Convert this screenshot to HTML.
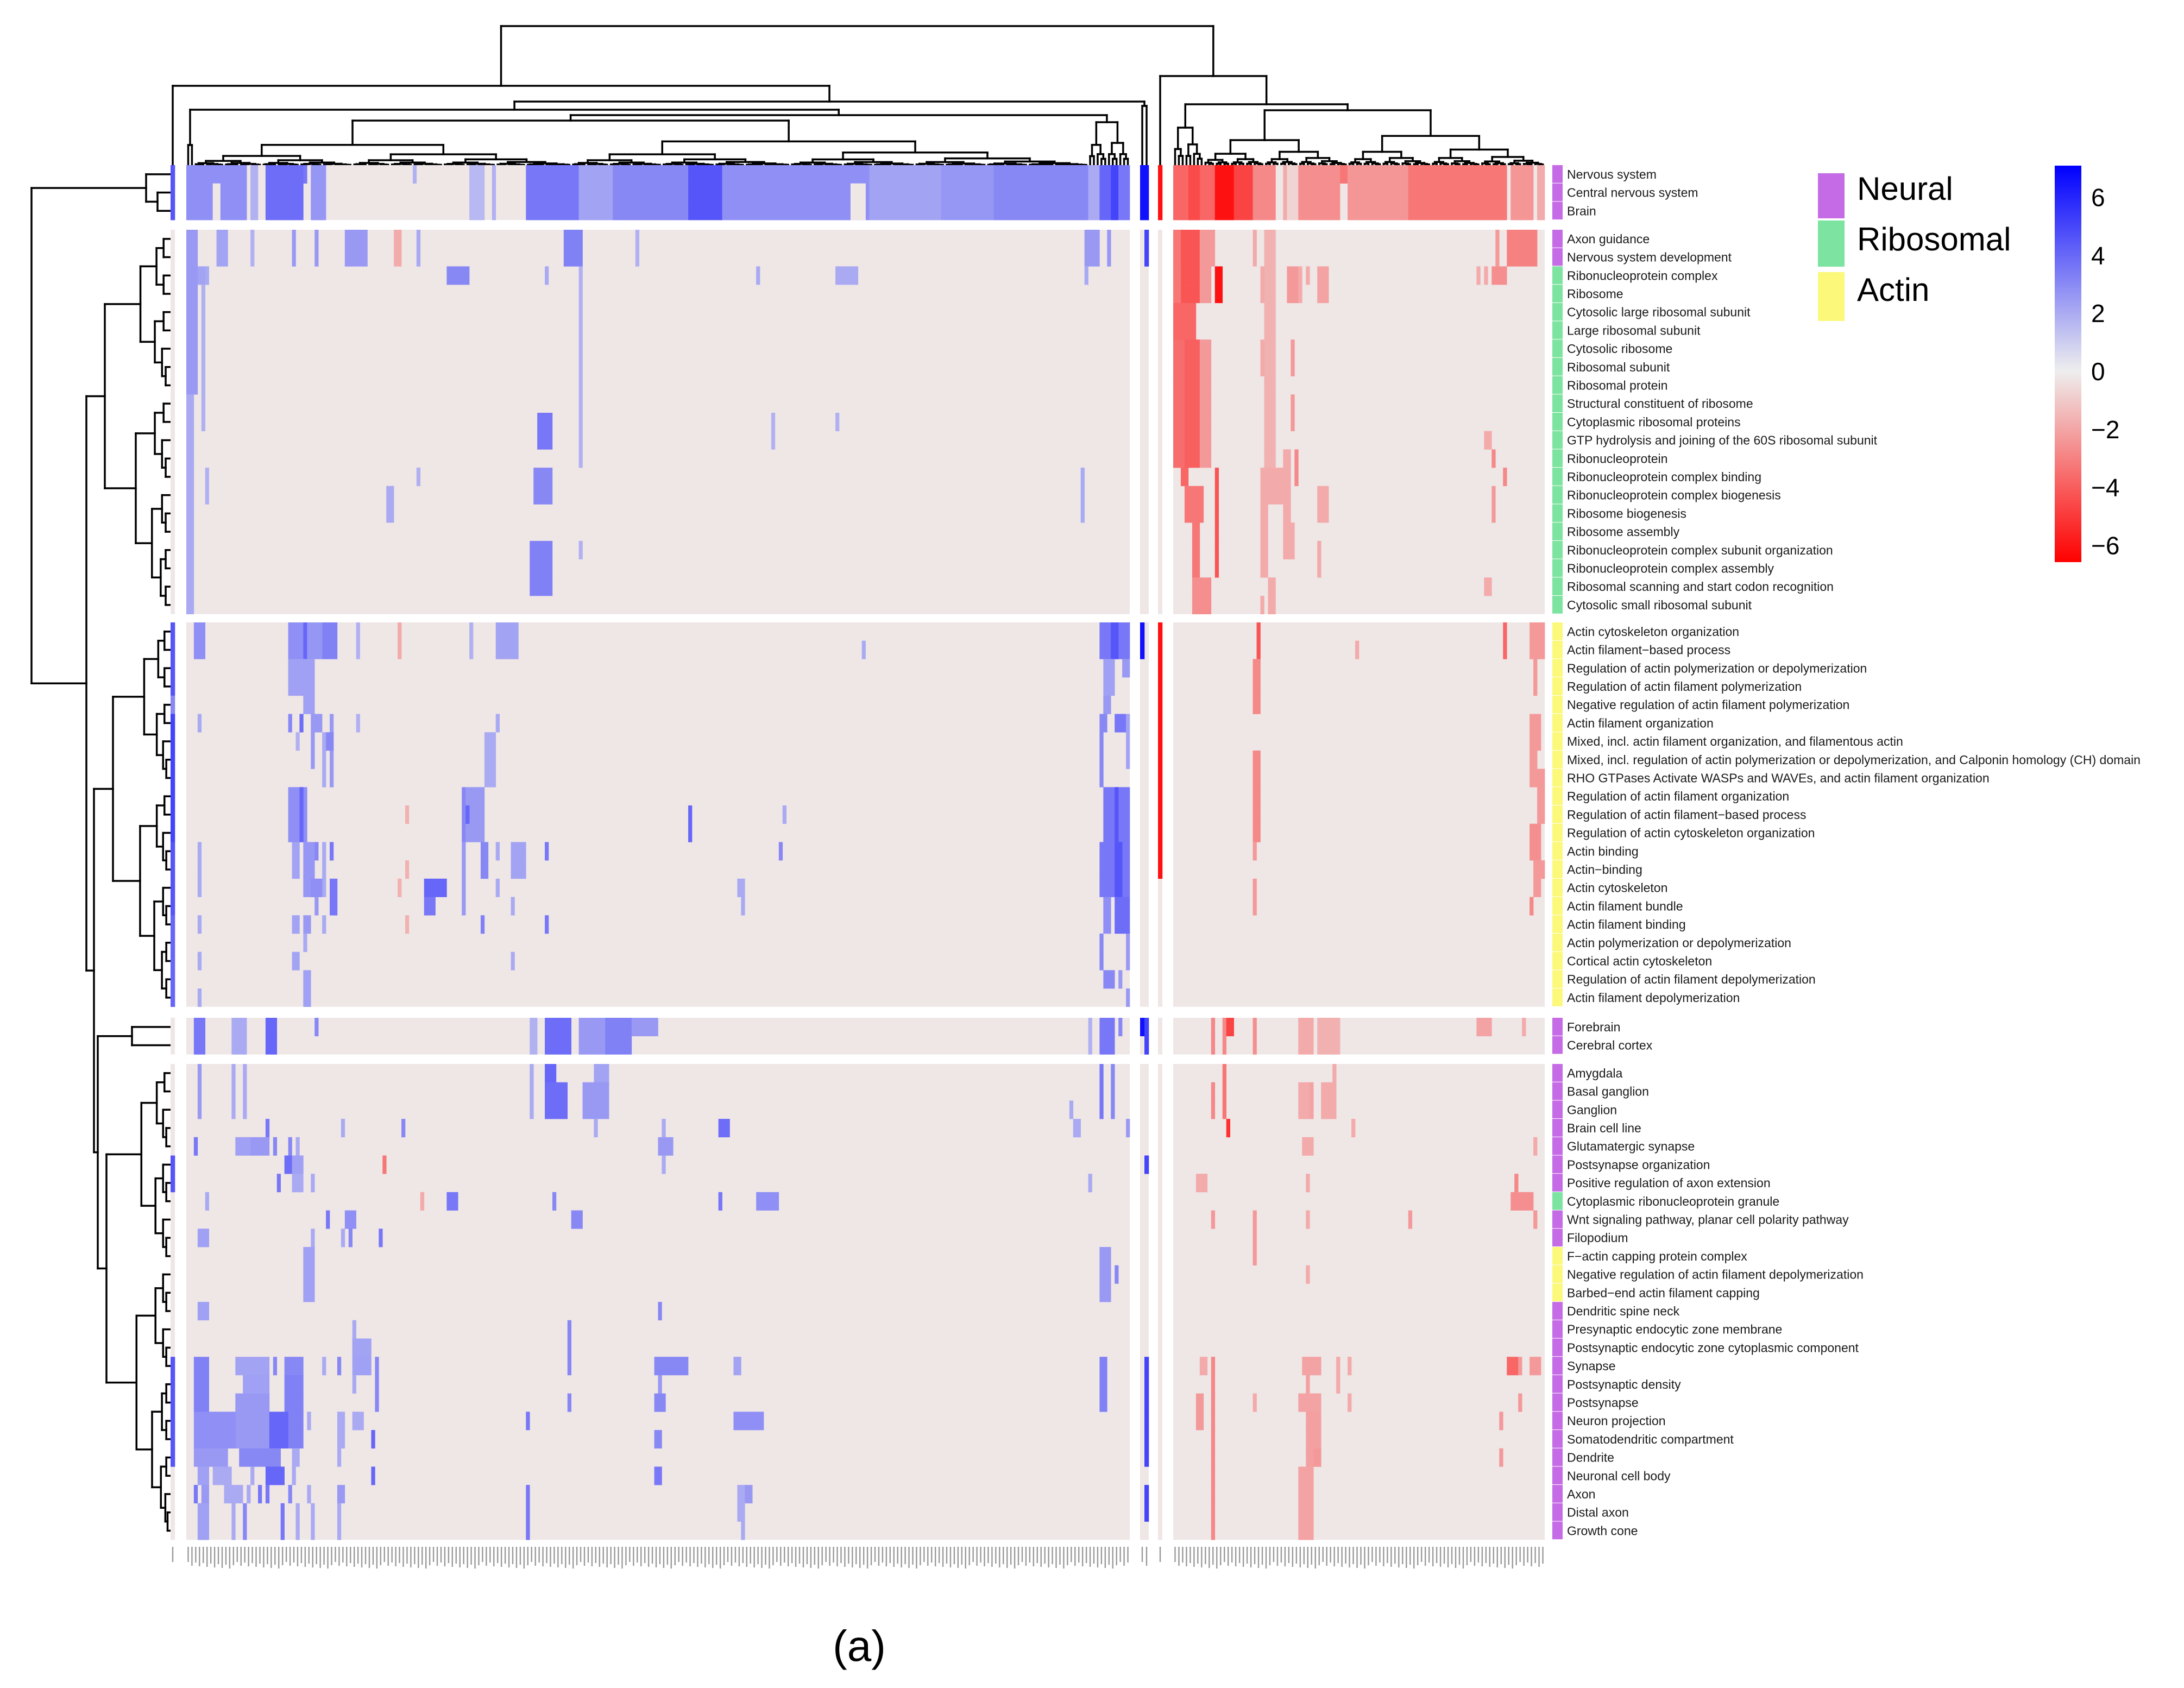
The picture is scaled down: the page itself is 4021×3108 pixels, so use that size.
<!DOCTYPE html>
<html><head><meta charset="utf-8"><style>
html,body{margin:0;padding:0;background:#fff;}
svg{display:block;font-family:"Liberation Sans",Arial,sans-serif;}
</style></head><body>
<svg id="chart" width="4021" height="3108" viewBox="0 0 4021 3108" xmlns="http://www.w3.org/2000/svg">
<rect width="4021" height="3108" fill="#fff"/>
<g id="dendro-cols"></g>
<g id="dendro-rows"></g>
<g id="cells"></g>
<g id="annot"></g>
<g id="labels"></g>
<g id="ticks"></g>
<g>
  <rect x="3347" y="319" width="49" height="83" fill="#c56be6"/>
  <rect x="3347" y="406" width="49" height="85" fill="#7de3a0"/>
  <rect x="3347" y="501" width="49" height="90" fill="#fbf87a"/>
  <text x="3419" y="368" font-size="60">Neural</text>
  <text x="3419" y="461" font-size="60">Ribosomal</text>
  <text x="3419" y="554" font-size="60">Actin</text>
</g>
<defs><linearGradient id="cbg" x1="0" y1="0" x2="0" y2="1">
<stop offset="0" stop-color="#0000ff"/><stop offset="0.518" stop-color="#eeeeee"/><stop offset="1" stop-color="#ff0000"/>
</linearGradient></defs>
<g>
  <rect x="3783" y="305" width="49" height="730" fill="url(#cbg)"/>
  <g id="cbticks" font-size="46"></g>
</g>
<text x="1582" y="3058" font-size="80" text-anchor="middle">(a)</text>
</svg>
<script>
// ---------- data ----------
const rowLabels = ["Nervous system","Central nervous system","Brain","Axon guidance","Nervous system development","Ribonucleoprotein complex","Ribosome","Cytosolic large ribosomal subunit","Large ribosomal subunit","Cytosolic ribosome","Ribosomal subunit","Ribosomal protein","Structural constituent of ribosome","Cytoplasmic ribosomal proteins","GTP hydrolysis and joining of the 60S ribosomal subunit","Ribonucleoprotein","Ribonucleoprotein complex binding","Ribonucleoprotein complex biogenesis","Ribosome biogenesis","Ribosome assembly","Ribonucleoprotein complex subunit organization","Ribonucleoprotein complex assembly","Ribosomal scanning and start codon recognition","Cytosolic small ribosomal subunit","Actin cytoskeleton organization","Actin filament\u2212based process","Regulation of actin polymerization or depolymerization","Regulation of actin filament polymerization","Negative regulation of actin filament polymerization","Actin filament organization","Mixed, incl. actin filament organization, and filamentous actin","Mixed, incl. regulation of actin polymerization or depolymerization, and Calponin homology (CH) domain","RHO GTPases Activate WASPs and WAVEs, and actin filament organization","Regulation of actin filament organization","Regulation of actin filament\u2212based process","Regulation of actin cytoskeleton organization","Actin binding","Actin\u2212binding","Actin cytoskeleton","Actin filament bundle","Actin filament binding","Actin polymerization or depolymerization","Cortical actin cytoskeleton","Regulation of actin filament depolymerization","Actin filament depolymerization","Forebrain","Cerebral cortex","Amygdala","Basal ganglion","Ganglion","Brain cell line","Glutamatergic synapse","Postsynapse organization","Positive regulation of axon extension","Cytoplasmic ribonucleoprotein granule","Wnt signaling pathway, planar cell polarity pathway","Filopodium","F\u2212actin capping protein complex","Negative regulation of actin filament depolymerization","Barbed\u2212end actin filament capping","Dendritic spine neck","Presynaptic endocytic zone membrane","Postsynaptic endocytic zone cytoplasmic component","Synapse","Postsynaptic density","Postsynapse","Neuron projection","Somatodendritic compartment","Dendrite","Neuronal cell body","Axon","Distal axon","Growth cone"];
// group runs: N=Neural, R=Ribosomal, A=Actin
const groupRuns = [["N",5],["R",19],["A",21],["N",9],["R",1],["N",2],["A",3],["N",13]];
const cbTicks = [6,4,2,0,-2,-4,-6];
const baseValue = -0.25;
// patches: [rowStart,rowEnd,colStart,colEnd,value]
const leftNarrow = [[0,2,0,0,4.5],[24,27,0,0,4.5],[28,28,0,0,3],[29,35,0,0,5],[36,39,0,0,4.5],[40,44,0,0,4],[52,53,0,0,4.5],[63,68,0,0,4.5]];
const blueNarrow = [[0,2,0,1,6.5],[3,4,1,1,5],[24,25,0,0,6.5],[45,45,0,0,6.5],[45,46,1,1,5],[52,52,1,1,5],[63,68,1,1,5],[70,71,1,1,5]];
const redNarrow = [[0,2,0,0,-6.5],[24,37,0,0,-6.5]];
const mainPatches = [
[0,2,0,15,2.8],[1,2,7,8,-0.25],[0,2,17,18,1.8],[0,2,21,30,3.8],[0,0,31,31,3.5],[0,2,33,36,2.6],[0,0,60,60,1.8],[0,2,75,78,1.6],[0,2,81,81,1.8],[0,2,90,103,3.5],[0,2,104,112,2.2],[0,2,113,132,3],[0,2,133,141,4.5],[0,2,142,180,2.8],[1,2,176,179,-0.25],[0,2,181,199,2.2],[0,2,200,213,2.6],[0,2,214,238,3],[0,2,239,241,2],[0,2,242,244,4],[0,2,245,246,5],[0,2,247,249,3.5],
[3,11,0,2,2.5],[12,23,0,1,2],[5,5,3,5,2.2],[6,13,4,4,1.8],
[3,4,8,10,2.2],[3,4,17,17,1.8],[3,4,28,28,2.5],[3,4,34,34,2.5],[3,4,42,47,2.5],[3,4,55,56,-2],[3,4,61,61,2],[3,4,100,104,3.2],[3,4,119,119,1.8],[3,4,238,241,2.5],[3,4,244,244,2.5],
[5,5,5,5,2],[5,5,69,74,3],[5,5,95,95,2],[5,15,104,104,1.8],[5,5,151,151,2],[5,5,172,177,2],[5,5,238,238,2],
[13,14,93,96,3.5],[13,14,155,155,1.8],[13,13,172,172,1.8],
[16,17,5,5,1.8],[16,16,61,61,1.8],[17,18,53,54,2],[16,17,92,96,3],[16,18,237,237,2],[20,22,91,96,3.2],[20,20,104,104,1.8],
[24,25,2,4,2.8],[24,25,27,30,2.8],[24,25,31,31,4],[24,25,32,35,2.6],[24,25,36,39,3.2],[26,27,27,30,2.3],[26,28,31,33,2.3],[24,25,45,45,1.8],[24,25,56,56,-2],[24,25,75,75,1.8],[24,25,82,87,2.2],
[29,29,3,3,2],[29,29,27,27,3],[29,29,30,30,3.8],[29,29,33,35,2.5],[29,29,38,38,2.5],[29,29,45,45,1.8],[29,29,82,82,2],
[30,30,29,29,1.8],[30,31,33,33,2.5],[30,32,36,36,2],[30,32,38,38,2.5],[30,32,79,81,2],[30,30,37,38,3],
[33,35,27,31,2.8],[33,35,30,30,4],[33,35,73,73,3],[33,35,74,78,2.5],[34,34,74,74,4],[34,34,58,58,-1.8],
[36,38,3,3,2],[36,37,28,29,2.2],[36,38,31,33,2.6],[36,36,34,34,3],[36,38,36,36,2],[36,36,38,38,3.5],[37,37,58,58,-1.8],[36,39,73,73,2.5],[36,37,78,79,3],[36,36,82,82,2],[36,37,86,89,2.2],[36,36,95,95,3.5],
[38,38,63,68,4],[39,39,63,65,3.5],[38,39,38,39,3.5],[38,38,33,35,2.8],[38,38,56,56,-1.8],[38,38,82,82,2],[39,39,86,86,2],[39,39,34,34,2.5],
[40,40,3,3,2],[40,40,28,29,2.2],[40,40,31,32,2.5],[40,40,36,36,2],[40,40,58,58,-1.8],[40,40,78,78,3.2],[40,40,95,95,3.5],
[41,41,31,31,2],[42,42,3,3,2],[42,42,28,29,2.2],[42,42,86,86,2],[43,44,31,32,2.3],[44,44,3,3,2],
[24,25,242,249,3.5],[24,25,245,246,4.5],[25,25,179,179,2],[26,27,243,245,2.3],[26,26,248,249,2.5],[28,28,243,244,2.5],[29,29,242,243,3],[29,29,246,248,3.5],[29,31,249,249,2.2],[30,32,242,242,3],[33,35,243,249,3.5],[33,35,246,246,4.5],[34,35,133,133,4],[34,34,158,158,2],[36,36,157,157,3],[36,38,242,249,3.5],[36,38,246,247,4.5],[38,38,146,147,2],[39,39,147,147,2],[39,40,243,244,2.8],[39,40,246,249,3.8],[41,42,242,242,3],[41,42,249,249,2.5],[43,43,243,245,3],[43,43,247,247,2.5],[44,44,249,249,2.5],
[45,46,2,4,3.5],[45,46,12,15,2],[45,46,21,23,4],[45,45,34,34,3],[45,46,91,92,1.8],[45,46,95,101,3.8],[45,46,104,110,2.5],[45,46,111,117,3.2],[45,45,118,124,2.5],[45,46,239,239,1.8],[45,46,242,245,3.5],[45,45,247,247,3],
[47,49,3,3,2.5],[47,49,12,12,2],[47,49,15,15,2],[47,49,91,91,2],[47,47,95,97,4],[48,49,95,100,3.8],[47,47,108,111,2.2],[48,49,105,111,2.5],[50,50,108,108,2],
[47,49,242,242,3.5],[47,49,245,245,3],[49,49,234,234,2],[50,50,235,236,2],[50,50,249,249,2.5],
[50,50,21,21,3.5],[50,50,41,41,2],[50,50,57,57,3],[50,50,126,126,2],[50,50,141,143,3.8],
[51,51,2,2,3.5],[51,51,13,16,2.3],[51,51,17,21,2.5],[51,51,23,23,3],[51,51,27,27,3],[51,51,29,29,2],[51,51,125,128,2.5],[52,52,126,126,2],
[52,52,26,27,3.8],[52,52,28,30,2.3],[52,52,52,52,-3.5],[53,53,24,24,3.5],[53,53,28,30,2],[53,53,33,33,2],[53,53,239,239,2],
[54,54,5,5,2],[54,54,62,62,-2],[54,54,69,71,3.5],[54,54,97,97,3],[54,54,141,141,3.5],[54,54,151,156,2.8],
[55,55,37,37,3.5],[55,55,42,44,2.8],[55,55,102,104,3],
[56,56,3,5,2.3],[56,56,33,33,2],[56,56,41,41,2],[56,56,43,43,3],[56,56,51,51,3.5],
[57,59,31,33,2.3],[57,59,242,244,2.5],[58,58,246,246,3],
[60,60,3,5,2.3],[60,60,125,125,3],[61,62,44,44,2],[62,62,44,48,2.2],[61,63,101,101,3],
[63,63,2,5,3.2],[63,63,13,21,2.2],[63,63,23,23,3],[63,63,26,30,3],[63,63,36,36,2],[63,63,40,40,3],[63,63,44,48,2.3],[63,65,50,50,3],[63,63,124,132,3],[63,63,145,146,2.2],[63,65,242,243,3.2],
[64,65,2,5,3.2],[64,65,15,21,2.3],[64,67,26,30,3.2],[64,64,44,44,2],[65,65,101,101,3],[64,64,125,125,2.5],[65,65,124,126,3],
[65,67,13,21,2.5],[66,67,2,12,2.8],[66,67,22,26,4],[66,66,32,32,2],[66,67,40,41,2],[66,66,44,46,2],[66,66,90,90,3.5],[66,66,145,152,2.8],
[67,67,49,49,4],[67,67,124,125,3],
[68,68,2,10,2.5],[68,68,14,24,3],[68,68,28,29,2],[68,68,40,40,2],[69,69,3,5,2.3],[69,69,7,11,2],[69,69,17,17,2],[69,69,21,25,4],[69,69,28,28,2],[69,69,49,49,4],[69,69,124,125,3.5],
[70,70,2,2,3.5],[70,70,4,5,2.5],[70,70,10,14,2],[70,70,16,16,2],[70,70,19,19,3.5],[70,70,21,21,3.5],[70,70,27,27,3],[70,70,32,32,2],[70,70,40,41,2.5],[70,71,90,90,3.5],[70,71,146,147,2],[70,70,148,149,2.5],
[71,72,3,5,2.3],[71,72,12,12,2],[71,72,15,15,3],[71,72,25,25,3.5],[71,72,29,29,2],[71,72,33,33,2],[71,72,40,40,2],[72,72,90,90,3.5],[72,72,147,147,2]
];
const rightPatches = [
[0,2,0,10,-4],[0,2,4,6,-4.8],[0,2,11,15,-6.5],[0,2,16,20,-5],[0,2,21,26,-3],[0,2,29,29,-2],[0,2,30,32,-0.8],[0,2,33,43,-2.8],[0,0,44,45,-3.5],[0,2,46,61,-2.6],[0,2,62,87,-3.5],[0,2,89,94,-2.6],[0,2,96,97,-2],
[3,4,0,1,-3.5],[3,6,2,6,-4.5],[3,4,7,10,-2.5],[5,6,0,1,-3.5],[5,6,7,9,-2.5],[5,6,11,12,-6.5],[7,8,0,5,-4],[9,15,0,2,-3.8],[9,15,3,6,-4.2],[9,15,7,9,-2.5],[16,16,2,3,-4],[17,18,3,7,-3.5],[16,21,11,11,-4.5],[19,21,5,6,-3.5],[22,23,5,9,-2.8],
[3,4,21,21,-2],[3,15,24,26,-1.8],[5,6,23,23,-2],[9,10,23,23,-2],[16,21,23,24,-2],[16,17,25,28,-2],[22,23,25,26,-2],[23,23,23,23,-2],
[5,6,30,32,-2.5],[5,6,33,33,-2],[9,10,31,31,-2.5],[12,13,31,31,-2.5],[15,16,32,32,-3],[15,18,29,30,-2],[19,20,29,31,-2],
[5,5,35,35,-2],[5,6,38,40,-2.2],[17,18,38,40,-2],[20,21,38,38,-2],
[5,5,80,80,-2],[5,5,82,82,-2],[5,5,84,87,-2.8],[3,4,85,85,-2.5],[3,4,88,95,-3.2],[14,14,82,83,-2],[15,15,84,84,-3],[16,16,87,87,-3],[17,18,84,84,-2.5],[22,22,82,83,-2],
[24,25,22,22,-4.5],[26,28,21,22,-3],[31,35,21,22,-3],[36,36,21,21,-2.5],[38,39,21,21,-2.5],[25,25,48,48,-2],[24,25,87,87,-4],[24,25,94,97,-2.5],[26,27,95,95,-2.5],[29,30,94,96,-2.5],[31,32,94,95,-2.5],[32,34,96,97,-2.5],[35,36,94,96,-2.8],[37,37,95,97,-2.5],[38,38,95,96,-2.5],[39,39,94,94,-3],
[45,46,10,10,-3],[45,46,13,13,-3],[45,45,14,15,-5],[45,46,21,21,-2.8],[45,46,33,35,-2],[45,46,36,36,-2],[45,46,38,43,-1.8],[45,45,80,82,-2.2],[45,45,83,83,-2.2],[45,45,92,92,-2],
[47,49,13,13,-3.5],[48,49,10,10,-3],[50,50,14,14,-5.5],[48,49,33,35,-2],[48,49,36,36,-2.2],[48,49,39,42,-2],[47,47,42,42,-2],[50,50,47,47,-2],[51,51,34,36,-2],[51,51,95,95,-2],
[53,53,6,8,-2],[53,53,35,35,-2],[53,53,90,90,-3],[54,54,89,94,-2.8],[55,55,10,10,-2.5],[55,55,21,21,-2.5],[55,55,35,35,-2],[55,55,62,62,-2.5],[55,55,95,95,-2.5],[56,57,21,21,-2.5],[58,58,35,35,-2],
[63,72,10,10,-3],[63,63,7,8,-2],[63,63,34,38,-2.2],[63,64,43,43,-2],[63,63,46,46,-2],[63,63,88,90,-4],[63,63,91,91,-2.5],[63,63,94,96,-2.5],[64,64,35,35,-2.3],[65,65,91,91,-2.5],[65,66,6,7,-2.5],[65,65,21,21,-2],[65,65,33,38,-2.2],[66,68,35,38,-2.3],[65,65,46,46,-2],[66,66,86,86,-2.5],[68,68,86,86,-2.5],[69,72,33,36,-2.2],[68,68,37,38,-2.5]
];

// ---------- layout / scales ----------
const NS = "http://www.w3.org/2000/svg";
const ROW_H = 33.7;
const rowBlocks = [[0,2,304],[3,23,423],[24,44,1146],[45,46,1874],[47,72,1959]];
const slices = {
  left:{x0:314,w:8,n:1}, main:{x0:343,w:6.948,n:250}, blue:{x0:2099,w:8,n:2}, red:{x0:2132,w:8,n:1}, right:{x0:2160,w:6.98,n:98}
};
const rowGroups = [];
groupRuns.forEach(g=>{ for(let i=0;i<g[1];i++) rowGroups.push(g[0]); });
function rowY(r){ for(const b of rowBlocks){ if(r>=b[0]&&r<=b[1]) return b[2]+(r-b[0])*ROW_H; } return 0; }
function colX(s,c){ return slices[s].x0 + c*slices[s].w; }
function color(v){
  const t=Math.min(Math.abs(v)/7,1);
  let r,g,b;
  if(v>=0){ r=g=238-238*t; b=238+17*t; } else { r=238+17*t; g=b=238-238*t; }
  return "rgb("+Math.round(r)+","+Math.round(g)+","+Math.round(b)+")";
}
function mk(tag,attrs,parent){ const e=document.createElementNS(NS,tag); for(const k in attrs) e.setAttribute(k,attrs[k]); parent.appendChild(e); return e; }

// ---------- cells ----------
const cells=document.getElementById("cells");
for(const sk in slices){
  const s=slices[sk];
  for(const b of rowBlocks){
    const el=mk("rect",{x:s.x0,y:b[2],width:s.w*s.n,height:(b[1]-b[0]+1)*ROW_H,fill:color(baseValue)},cells);
    
    
  }
}
function drawPatches(arr,sk){
  const s=slices[sk];
  for(const p of arr){
    const c0=Math.max(0,p[2]), c1=Math.min(s.n-1,p[3]);
    for(let r=p[0]; r<=p[1]; r++){
      const el=mk("rect",{x:colX(sk,c0),y:rowY(r),width:(c1-c0+1)*s.w+0.3,height:ROW_H+0.3,fill:color(p[4])},cells);
      
      
    }
  }
}
drawPatches(leftNarrow,"left");
drawPatches(mainPatches,"main");
drawPatches(blueNarrow,"blue");
drawPatches(redNarrow,"red");
drawPatches(rightPatches,"right");

// ---------- annotation + labels ----------
const gcol={N:"#c56be6",R:"#7de3a0",A:"#fbf87a"};
const annot=document.getElementById("annot"), labels=document.getElementById("labels");
rowLabels.forEach((lab,r)=>{
  const a=mk("rect",{x:2858,y:rowY(r),width:19,height:ROW_H-1,fill:gcol[rowGroups[r]]||"#c56be6"},annot);
  
  
  const t=mk("text",{x:2885,y:rowY(r)+ROW_H/2+8,"font-size":23,fill:"#1a1a1a"},labels);
  t.textContent=lab;
  
  
});

// ---------- column tick labels (tiny) ----------
const ticks=document.getElementById("ticks");
for(const sk in slices){
  const s=slices[sk];
  for(let c=0;c<s.n;c++){
    const t=mk("rect",{x:colX(sk,c)+s.w/2-1.2,y:2848,width:2.4,height:28+(c*7%13),fill:"#9a9a9a"},ticks);
    
    
  }
}

// ---------- colour scale ticks ----------
const cbt=document.getElementById("cbticks");
cbTicks.forEach(v=>{
  const y=684-v*53.4;
  const t=mk("text",{x:3850,y:y+16},cbt);
  t.textContent=(v<0?"\u2212":"")+Math.abs(v);
  
  
});

// ---------- dendrograms ----------
function L(i){ return {leaf:i}; }
function N(h,kids){ return {h:h,kids:kids}; }
function auto(a,b,h0,hLeaf){
  if(a===b) return L(a);
  const n=b-a+1;
  const k=a+Math.max(1,Math.round(n*0.42))-1;
  const sub=(x,y)=>{ if(x===y) return L(x); const s=y-x+1; return auto(x,y,h0+(hLeaf-h0)*(1-0.7*Math.sqrt(s/n)),hLeaf); };
  return N(h0,[sub(a,k),sub(k+1,b)]);
}
function colLeafPos(g){
  if(g===0) return colX("left",0)+4;
  if(g<=250) return colX("main",g-1)+slices.main.w/2;
  if(g<=252) return colX("blue",g-251)+4;
  if(g===253) return colX("red",0)+4;
  return colX("right",g-254)+slices.right.w/2;
}
function rowLeafPos(r){ return rowY(r)+ROW_H/2; }
function drawTree(node,leafPos,hLeaf,g,horizontal){
  function rec(nd){
    if(nd.leaf!==undefined) return {p:leafPos(nd.leaf),h:hLeaf};
    const ks=nd.kids.map(rec);
    const ps=ks.map(k=>k.p);
    ks.forEach(k=>{
      const ln = horizontal ? mk("line",{x1:k.h,y1:k.p,x2:nd.h,y2:k.p},g) : mk("line",{x1:k.p,y1:k.h,x2:k.p,y2:nd.h},g);
      
      
    });
    const mn=Math.min(...ps), mx=Math.max(...ps);
    const hl = horizontal ? mk("line",{x1:nd.h,y1:mn,x2:nd.h,y2:mx},g) : mk("line",{x1:mn,y1:nd.h,x2:mx,y2:nd.h},g);
    
    
    return {p:(ps[0]+ps[ps.length-1])/2,h:nd.h};
  }
  rec(node);
}
const colTree = N(48,[
  N(158,[L(0), N(187,[ N(202,[ N(267,[L(1),L(2)]), N(212,[auto(3,239,222,304), auto(240,250,225,304)]) ]), N(195,[L(251),L(252)]) ])]),
  N(140,[L(253), N(192,[auto(254,261,235,304), auto(262,351,203,304)])])
]);
const rowTree = N(58,[
  N(269,[L(0), N(290,[L(1),L(2)])]),
  N(159,[auto(3,23,193,314), N(173,[auto(24,44,208,314), N(180,[N(243,[L(45),L(46)]), auto(47,72,196,314)])])])
]);
const gc=document.getElementById("dendro-cols"), gr=document.getElementById("dendro-rows");
[gc,gr].forEach(g=>{ g.setAttribute("stroke","#000"); g.setAttribute("stroke-width","3.5"); g.setAttribute("stroke-linecap","square"); });
drawTree(colTree,colLeafPos,304,gc,false);
drawTree(rowTree,rowLeafPos,314,gr,true);
</script>
</body></html>
